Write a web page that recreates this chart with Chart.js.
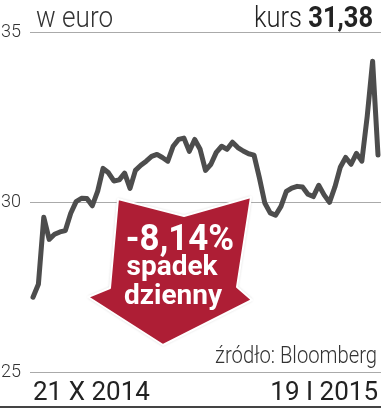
<!DOCTYPE html>
<html lang="pl">
<head>
<meta charset="utf-8">
<script src="https://cdn.jsdelivr.net/npm/chart.js@4"></script>
<style>
    html, body { margin: 0; padding: 0; background: #fff; }
    #wrap { position: relative; width: 381px; height: 408px; overflow: hidden; font-family: Roboto, sans-serif; }
    #wykres { position: absolute; left: 0; top: 0; }
    .txt { position: absolute; white-space: nowrap; line-height: 1; }
    #jednostka { left: 36px; top: 1.5px; font-size: 30px; font-weight: 300; color: #333; transform: scaleX(0.87); transform-origin: left top; }
    #kurs { right: 8px; top: 1.5px; font-size: 30px; font-weight: 300; color: #222; transform: scaleX(0.85); transform-origin: right top; }
    #kurs b { font-weight: 700; }
    #zrodlo { right: 4px; top: 343.6px; font-size: 23px; font-weight: 300; color: #333; transform: scaleX(0.88); transform-origin: right top; }
    .strzalka { color: #fff; font-weight: 700; text-align: center; width: 200px; }
    #proc { left: 80px; top: 219.7px; font-size: 36px; transform: scaleX(0.97); }
    #spadek { left: 72px; top: 252.4px; font-size: 28px; }
    #dzienny { left: 73px; top: 281.4px; font-size: 28px; }
    #kreska { position: absolute; left: 0; top: 405.5px; width: 381px; height: 2px; background: #444; }
</style>
</head>
<body>
<div id="wrap">
    <canvas id="wykres" width="381" height="408"></canvas>
    <div class="txt" id="jednostka">w euro</div>
    <div class="txt" id="kurs">kurs <b>31,38</b></div>
    <div class="txt" id="zrodlo">źródło: Bloomberg</div>
    <div class="txt strzalka" id="proc">-8,14%</div>
    <div class="txt strzalka" id="spadek">spadek</div>
    <div class="txt strzalka" id="dzienny">dzienny</div>
    <div id="kreska"></div>
</div>
<script>
// daty na osi X (pierwsza i ostatnia sesja)
const etykietyOsi = ['21 X 2014', '19 I 2015'];

// kurs zamkniecia, w euro, kolejne sesje
const kurs = [
    27.20, 27.58, 29.55, 28.90, 29.05, 29.12, 29.16, 29.67, 30.01, 30.11,
    30.10, 29.89, 30.32, 30.99, 30.86, 30.62, 30.65, 30.85, 30.40, 30.93,
    31.08, 31.20, 31.34, 31.40, 31.31, 31.20, 31.64, 31.84, 31.88, 31.49,
    31.84, 31.55, 30.93, 31.11, 31.46, 31.64, 31.55, 31.76, 31.60, 31.50,
    31.42, 31.38, 30.71, 29.97, 29.68, 29.61, 29.87, 30.31, 30.41, 30.46,
    30.44, 30.23, 30.16, 30.49, 30.21, 29.99, 30.44, 31.02, 31.31, 31.11,
    31.43, 31.20, 32.52, 34.14, 31.38
];

// podzialka osi Y
const podzialkaY = [25, 30, 35];

const ostatni = kurs.length - 1;

// strzalka z opisem spadku
const strzalkaPlugin = {
    id: 'strzalka',
    afterDatasetsDraw(chart) {
        const ctx = chart.ctx;
        ctx.save();
        ctx.beginPath();
        ctx.moveTo(118, 199);
        ctx.lineTo(184, 216);
        ctx.lineTo(251, 197);
        ctx.lineTo(237, 287);
        ctx.lineTo(252, 300);
        ctx.lineTo(163, 345);
        ctx.lineTo(88, 297);
        ctx.lineTo(110, 288);
        ctx.closePath();
        ctx.shadowColor = 'rgba(0,0,0,0.3)';
        ctx.shadowBlur = 3;
        ctx.fillStyle = '#ae1e35';
        ctx.fill();
        ctx.shadowColor = 'transparent';
        ctx.lineWidth = 2;
        ctx.strokeStyle = '#fff';
        ctx.lineJoin = 'round';
        ctx.stroke();
        ctx.restore();
    }
};

new Chart(document.getElementById('wykres').getContext('2d'), {
    type: 'line',
    data: {
        datasets: [{
            data: kurs.map((v, i) => ({ x: i, y: v })),
            borderColor: '#4d4d4d',
            borderWidth: 5,
            borderJoinStyle: 'round',
            borderCapStyle: 'round',
            pointRadius: 0,
            tension: 0,
            fill: false
        }]
    },
    options: {
        responsive: false,
        animation: false,
        devicePixelRatio: 1,
        layout: { padding: { top: 32, right: 0, bottom: 0, left: 0 } },
        plugins: {
            legend: { display: false },
            tooltip: { enabled: false }
        },
        scales: {
            x: {
                type: 'linear',
                min: -0.556,
                max: ostatni + 0.556,
                grid: { display: false },
                border: { display: false },
                afterBuildTicks: function(scale) {
                    scale.ticks = [{ value: 0 }, { value: ostatni }];
                },
                afterFit: function(scale) {
                    scale.height = 36;
                },
                ticks: {
                    autoSkip: false,
                    maxRotation: 0,
                    align: 'inner',
                    padding: -2,
                    color: '#222',
                    font: { family: 'Roboto', size: 26, weight: '400' },
                    callback: function(value) {
                        return value === 0 ? etykietyOsi[0] : etykietyOsi[1];
                    }
                }
            },
            y: {
                min: podzialkaY[0],
                max: podzialkaY[podzialkaY.length - 1],
                afterBuildTicks: function(scale) {
                    scale.ticks = podzialkaY.map(v => ({ value: v }));
                },
                afterFit: function(scale) {
                    scale.width = 30;
                },
                grid: { color: '#aaa', lineWidth: 1, drawTicks: false },
                border: { display: false },
                ticks: {
                    padding: 9,
                    color: '#333',
                    font: { family: 'Roboto', size: 18, weight: '300' }
                }
            }
        }
    },
    plugins: [strzalkaPlugin]
});
</script>
</body>
</html>
